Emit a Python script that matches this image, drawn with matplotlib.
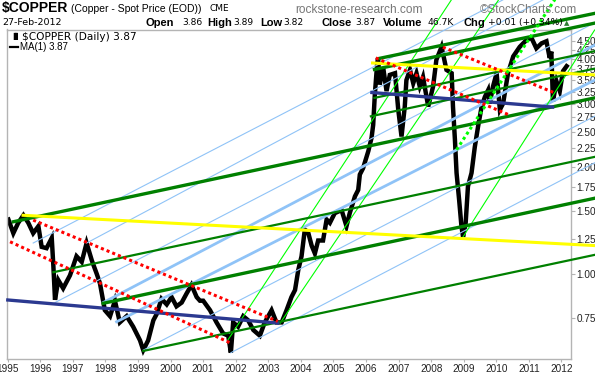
import numpy as np
import matplotlib
matplotlib.use("Agg")
import matplotlib.pyplot as plt
import matplotlib.ticker as mticker

W, H, DPI = 595, 376, 100

# daily close as (decimal year, price)
years = [1995.02, 1995.17, 1995.32, 1995.48, 1995.63, 1995.78, 1995.94, 1996.04,
         1996.19, 1996.35, 1996.40, 1996.45, 1996.55, 1996.70, 1996.91, 1997.11,
         1997.27, 1997.42, 1997.58, 1997.73, 1997.83, 1997.98, 1998.14, 1998.29,
         1998.44, 1998.65, 1998.85, 1999.06, 1999.16, 1999.31, 1999.47, 1999.57,
         1999.72, 1999.88, 2000.03, 2000.18, 2000.34, 2000.49, 2000.64, 2000.80,
         2000.90, 2001.00, 2001.21, 2001.41, 2001.61, 2001.77, 2001.85, 2001.92,
         2002.07, 2002.23, 2002.38, 2002.54, 2002.74, 2002.89, 2003.10, 2003.25,
         2003.41, 2003.56, 2003.71, 2003.82, 2003.92, 2004.02, 2004.12, 2004.22,
         2004.33, 2004.43, 2004.53, 2004.68, 2004.79, 2004.89, 2005.04, 2005.25,
         2005.40, 2005.50, 2005.66, 2005.76, 2005.81, 2005.91, 2006.07, 2006.17,
         2006.22, 2006.27, 2006.34, 2006.37, 2006.42, 2006.53, 2006.63, 2006.73,
         2006.89, 2006.99, 2007.09, 2007.19, 2007.24, 2007.35, 2007.45, 2007.55,
         2007.65, 2007.75, 2007.91, 2008.06, 2008.16, 2008.32, 2008.47, 2008.63,
         2008.67, 2008.73, 2008.78, 2008.86, 2008.93, 2008.98, 2009.06, 2009.13,
         2009.24, 2009.34, 2009.44, 2009.55, 2009.65, 2009.75, 2009.80, 2009.90,
         2010.01, 2010.11, 2010.21, 2010.36, 2010.52, 2010.72, 2010.93, 2011.08,
         2011.23, 2011.39, 2011.54, 2011.64, 2011.69, 2011.74, 2011.85, 2011.95,
         2012.05, 2012.16]
prices = [1.42, 1.30, 1.39, 1.46, 1.39, 1.30, 1.36, 1.19,
          1.18, 1.26, 1.05, 0.845, 0.96, 0.91, 0.99, 1.12,
          1.08, 1.22, 1.09, 1.00, 0.94, 0.79, 0.76, 0.84,
          0.73, 0.76, 0.71, 0.65, 0.61, 0.65, 0.74, 0.77,
          0.85, 0.82, 0.86, 0.81, 0.83, 0.88, 0.93, 0.86,
          0.84, 0.84, 0.79, 0.73, 0.68, 0.67, 0.60, 0.73,
          0.71, 0.76, 0.74, 0.695, 0.67, 0.73, 0.79, 0.73,
          0.73, 0.79, 0.86, 0.90, 1.025, 1.12, 1.33, 1.31,
          1.20, 1.14, 1.24, 1.24, 1.42, 1.39, 1.48, 1.51,
          1.36, 1.48, 1.65, 1.72, 1.90, 1.98, 2.21, 2.41,
          2.62, 3.18, 3.87, 4.04, 3.40, 3.78, 3.26, 3.62,
          3.66, 2.89, 2.43, 2.95, 3.50, 3.74, 3.43, 3.66,
          3.36, 3.57, 2.95, 3.36, 3.99, 4.34, 3.74, 3.66,
          2.95, 2.38, 1.92, 1.61, 1.36, 1.27, 1.39, 1.76,
          1.92, 2.27, 2.59, 2.95, 3.14, 3.28, 3.01, 3.36,
          3.66, 2.89, 3.01, 3.66, 4.08, 4.34, 4.54, 4.60,
          4.30, 4.44, 4.50, 4.04, 4.21, 3.05, 3.47, 3.26,
          3.71, 3.83]

# drawn trend lines: (year0, price0, year1, price1)
navy_lines = [(1995.0, 0.844, 2003.29, 0.727), (2006.18, 3.23, 2011.73, 2.94)]
yellow_lines = [(1995.47, 1.46, 2013.02, 1.20), (2006.20, 3.91, 2013.02, 3.62)]
red_dotted = [(1995.78, 1.415, 2003.29, 0.735), (1995.07, 1.23, 2001.82, 0.64),
              (2008.36, 4.33, 2011.80, 3.22), (2006.30, 4.04, 2010.41, 2.79)]
lime_dotted = [(2008.78, 2.23, 2011.80, 5.90)]
lime_thin = [(2001.76, 0.652, 2008.62, 5.88), (2003.36, 0.726, 2010.07, 5.88),
             (2008.98, 1.27, 2013.02, 4.84)]
green_thick = [(1995.17, 1.40, 2013.02, 3.12), (1997.93, 0.826, 2013.02, 1.63),
               (2006.26, 3.75, 2013.02, 5.06), (2006.42, 4.03, 2013.02, 5.39)]
green_mid = [(1996.40, 1.01, 2013.02, 2.13), (1999.16, 0.607, 2013.02, 1.13),
             (2006.15, 2.77, 2013.02, 3.77), (2006.26, 3.12, 2013.02, 4.22)]
blue_thick = [(1998.34, 0.733, 2013.02, 3.50), (1997.93, 0.83, 2013.02, 4.39)]
blue_thin = [(1995.78, 1.22, 2010.20, 5.88), (1997.42, 1.22, 2011.43, 5.88),
             (1996.45, 0.83, 2013.02, 5.07), (1999.16, 0.61, 2013.02, 2.77),
             (2001.85, 0.60, 2013.02, 2.05)]

year_ticks = list(range(1995, 2013))
price_ticks = [0.75, 1.00, 1.25, 1.50, 1.75, 2.00, 2.25, 2.50, 2.75,
               3.00, 3.25, 3.50, 3.75, 4.00, 4.25, 4.50]

GREEN = "#008000"
LIME = "#00ff00"
BLUE = "#8fc3f7"
NAVY = "#2b3990"
RED = "#ff0000"
YELLOW = "#ffff00"
GREY = "#b4b4b4"


def fx(px):
    return px / W


def fy(py):
    return 1 - py / H


fig = plt.figure(figsize=(W / DPI, H / DPI), dpi=DPI)
fig.patch.set_facecolor("white")
ax = fig.add_axes([fx(7.3), fy(358.5), fx(570.7 - 7.3), (358.5 - 29.5) / H])
ax.set_yscale("log")
ax.set_xlim(1994.985, 2012.285)
ax.set_ylim(0.578, 4.856)

ax.plot(years, prices, color="black", lw=3.2, solid_joinstyle="miter", zorder=2)


def draw(lines, **kw):
    for x0, y0, x1, y1 in lines:
        ax.plot([x0, x1], [y0, y1], clip_on=False, **kw)


draw(blue_thin, color=BLUE, lw=0.8, zorder=3)
draw(blue_thick, color=BLUE, lw=2.0, zorder=3)
draw(lime_thin, color=LIME, lw=0.8, zorder=3)
draw(green_mid, color=GREEN, lw=1.6, zorder=4)
draw(green_thick, color=GREEN, lw=2.4, zorder=4)
draw(yellow_lines, color=YELLOW, lw=2.2, zorder=4)
draw(navy_lines, color=NAVY, lw=2.4, zorder=4)
draw(red_dotted, color=RED, lw=2.2, ls=(0, (1, 1)), zorder=5)
draw(lime_dotted, color=LIME, lw=2.2, ls=(0, (1, 1)), zorder=5)

# axes styling
for side in ("left", "bottom", "right", "top"):
    ax.spines[side].set_color(GREY)
    ax.spines[side].set_linewidth(1.0)
ax.yaxis.tick_right()
ax.yaxis.set_major_locator(mticker.FixedLocator(price_ticks))
ax.yaxis.set_major_formatter(mticker.FixedFormatter(["%.2f" % p for p in price_ticks]))
ax.yaxis.set_minor_locator(mticker.NullLocator())
ax.set_xticks(year_ticks)
ax.set_xticklabels([str(y) for y in year_ticks])
ax.tick_params(axis="y", which="both", direction="out", length=3, color=GREY,
               labelsize=7.2, pad=1, labelcolor="#222222")
ax.tick_params(axis="x", direction="out", length=2, color=GREY,
               labelsize=7.2, pad=2, labelcolor="#222222")
for lab in ax.get_xticklabels() + ax.get_yticklabels():
    lab.set_family("Liberation Sans")

# header
fig.text(fx(2), fy(8), "$COPPER", fontsize=10, weight="bold",
         family="Liberation Sans", va="center", ha="left")
fig.text(fx(71), fy(8.5), "(Copper - Spot Price (EOD))", fontsize=7.5,
         family="Liberation Sans", va="center", ha="left")
fig.text(fx(210), fy(8.5), "CME", fontsize=6.5, family="DejaVu Sans",
         va="center", ha="left")
fig.text(fx(295), fy(10), "rockstone-research.com", fontsize=8.6,
         family="Liberation Sans", color="#777777", va="center", ha="left")
fig.text(fx(480), fy(10), "\u00a9StockCharts.com", fontsize=8.4,
         family="Liberation Sans", color="#777777", va="center", ha="left")
fig.text(fx(2), fy(22.5), "27-Feb-2012", fontsize=6.8, family="DejaVu Sans",
         va="center", ha="left")

quote = [(145, "Open", True), (182, "3.86", False), (207, "High", True),
         (233, "3.89", False), (260, "Low", True), (283, "3.82", False),
         (321, "Close", True), (355, "3.87", False), (383, "Volume", True),
         (428, "46.7K", False), (463, "Chg", True), (488, "+0.01 (+0.34%)", False)]
for px, txt, bold in quote:
    if bold:
        fig.text(fx(px), fy(22.5), txt, fontsize=8, weight="bold",
                 family="Liberation Sans", va="center", ha="left")
    else:
        fig.text(fx(px), fy(22.5), txt, fontsize=6.6, family="DejaVu Sans",
                 va="center", ha="left")
fig.text(fx(567), fy(23), "\u25b2", fontsize=5, color="#2e7d32",
         family="DejaVu Sans", va="center", ha="center")

# legend
fig.text(fx(10), fy(36.5), "\u2590\u258c", fontsize=5, family="DejaVu Sans",
         va="center", ha="left")
fig.text(fx(22.5), fy(36.5), "$COPPER (Daily) 3.87", fontsize=7.6,
         family="DejaVu Sans", va="center", ha="left")
fig.add_artist(plt.Line2D([fx(10), fx(18)], [fy(47.3), fy(47.3)],
                          color="black", lw=1.6))
fig.text(fx(20.5), fy(47.5), "MA(1) 3.87", fontsize=7,
         family="Liberation Sans", va="center", ha="left")

fig.savefig("out.png", dpi=DPI)
